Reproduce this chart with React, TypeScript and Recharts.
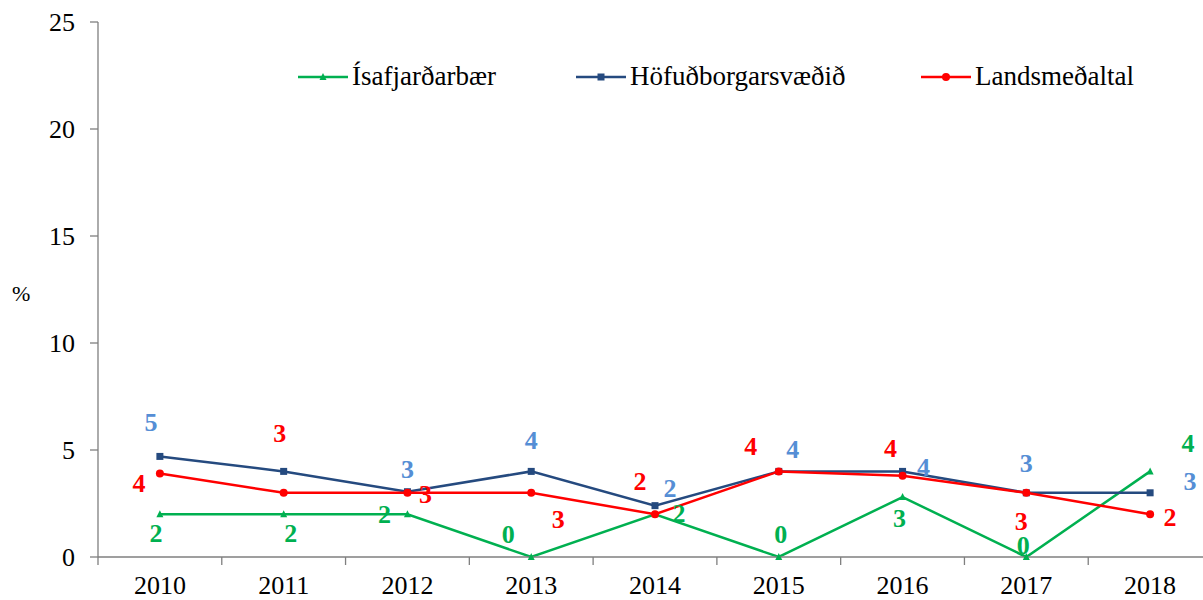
import React from "react"
import { LineChart, Line, XAxis, YAxis } from "recharts"

const years = ["2010", "2011", "2012", "2013", "2014", "2015", "2016", "2017", "2018"]
const isafjardarbaer = [2.0, 2.0, 2.0, 0.0, 2.0, 0.0, 2.8, 0.0, 4.0]
const hofudborgarsvaedid = [4.7, 4.0, 3.05, 4.0, 2.4, 4.0, 4.0, 3.0, 3.0]
const landsmedaltal = [3.9, 3.0, 3.0, 3.0, 2.0, 4.0, 3.8, 3.0, 2.0]
const yTicks = [0, 5, 10, 15, 20, 25]

// label offsets from the point (dx, dy), null = no label
const greenLabelPos: ([number, number] | null)[] = [
  [-4, 19], [7, 19], [-23, 0], [-23, -23], [24, -1], [2, -23], [-3, 21], [-3, -12], [38, -28],
]
const blueLabelPos: ([number, number] | null)[] = [
  [-9, -34], null, [0, -23], [0, -31], [15, -18], [14, -22], [21, -4], [0, -30], [40, -12],
]
const redLabelPos: ([number, number] | null)[] = [
  [-21, 9], [-4, -60], [18, 1], [27, 26], [-15, -33], [-28, -25], [-12, -28], [-5, 28], [20, 3],
]

const GREEN = "#00B050"
const BLUE = "#254A7F"
const BLUE_LABEL = "#558ED5"
const RED = "#FF0000"
const FONT = "Liberation Serif, Times New Roman, serif"

const CHART_W = 1215
const MARGIN = { top: 22, right: 3, left: 0, bottom: 13 }
const Y_W = 98
const HALF_BAND = (CHART_W - MARGIN.left - MARGIN.right - Y_W) / years.length / 2

const data = years.map((year, i) => ({
  x: i + 0.5,
  year,
  isa: isafjardarbaer[i],
  hof: hofudborgarsvaedid[i],
  lands: landsmedaltal[i],
}))

const makeLabel = (pos: ([number, number] | null)[], color: string) => (props: any) => {
  const { x, y, index, value } = props
  const p = pos[index]
  if (!p || x == null || y == null) return null
  return (
    <text
      key={`l-${color}-${index}`}
      x={x + p[0]}
      y={y + p[1]}
      dy={9}
      textAnchor="middle"
      fill={color}
      fontFamily={FONT}
      fontSize={26}
      fontWeight="bold"
    >
      {Math.round(value)}
    </text>
  )
}

const YearTick = (props: any) => {
  const { x, y, payload } = props
  const i = payload.value
  if (i >= years.length) return null
  return (
    <text x={x + HALF_BAND} y={y} dy={27} textAnchor="middle" fill="#000" fontFamily={FONT} fontSize={26}>
      {years[i]}
    </text>
  )
}

const Triangle = (props: any) => {
  const { cx, cy, index } = props
  if (cx == null || cy == null) return null
  return <polygon key={`t-${index}`} points={`${cx},${cy - 4} ${cx - 3.5},${cy + 3} ${cx + 3.5},${cy + 3}`} fill={GREEN} />
}

const Square = (props: any) => {
  const { cx, cy, index } = props
  if (cx == null || cy == null) return null
  return <rect key={`s-${index}`} x={cx - 3.5} y={cy - 3.5} width={7} height={7} fill={BLUE} />
}

const Dot = (props: any) => {
  const { cx, cy, index } = props
  if (cx == null || cy == null) return null
  return <circle key={`d-${index}`} cx={cx} cy={cy} r={4} fill={RED} />
}

const legendItems = [
  { name: "Ísafjarðarbær", color: GREEN, left: 298, marker: "tri" },
  { name: "Höfuðborgarsvæðið", color: BLUE, left: 576, marker: "sq" },
  { name: "Landsmeðaltal", color: RED, left: 921, marker: "dot" },
]

function Legend() {
  return (
    <>
      {legendItems.map((it) => (
        <div
          key={it.name}
          style={{ position: "absolute", top: 60, left: it.left, display: "flex", alignItems: "center", height: 32 }}
        >
          <svg width={50} height={12} style={{ marginRight: 4, marginTop: 2 }}>
            <line x1={0} y1={6} x2={50} y2={6} stroke={it.color} strokeWidth={2.5} />
            {it.marker === "tri" && <polygon points="25,2 21.5,9 28.5,9" fill={it.color} />}
            {it.marker === "sq" && <rect x={21.5} y={2.5} width={7} height={7} fill={it.color} />}
            {it.marker === "dot" && <circle cx={25} cy={6} r={4} fill={it.color} />}
          </svg>
          <span style={{ fontFamily: FONT, fontSize: 27, color: "#000", lineHeight: "32px" }}>{it.name}</span>
        </div>
      ))}
    </>
  )
}

export default function App() {
  return (
    <div style={{ position: "absolute", left: 0, top: 0, width: 1203, height: 600, overflow: "hidden", background: "#fff" }}>
      <LineChart width={CHART_W} height={600} data={data} margin={MARGIN}>
        <XAxis
          dataKey="x"
          type="number"
          domain={[0, years.length]}
          ticks={years.map((_, i) => i).concat([years.length])}
          tick={<YearTick />}
          tickSize={8}
          stroke="#7F7F7F"
          strokeWidth={1.3}
          height={30}
        />
        <YAxis
          domain={[0, 25]}
          ticks={yTicks}
          width={Y_W}
          tickSize={8}
          tickMargin={15}
          stroke="#7F7F7F"
          strokeWidth={1.3}
          tick={{ fill: "#000", fontFamily: FONT, fontSize: 26 }}
          label={{ value: "%", position: "insideLeft", offset: 12, dy: 4, fill: "#000", fontFamily: FONT, fontSize: 22 }}
        />
        <Line
          dataKey="isa"
          stroke={GREEN}
          strokeWidth={2.5}
          dot={<Triangle />}
          label={makeLabel(greenLabelPos, GREEN)}
          isAnimationActive={false}
        />
        <Line
          dataKey="hof"
          stroke={BLUE}
          strokeWidth={2.5}
          dot={<Square />}
          label={makeLabel(blueLabelPos, BLUE_LABEL)}
          isAnimationActive={false}
        />
        <Line
          dataKey="lands"
          stroke={RED}
          strokeWidth={2.5}
          dot={<Dot />}
          label={makeLabel(redLabelPos, RED)}
          isAnimationActive={false}
        />
      </LineChart>
      <Legend />
    </div>
  )
}
